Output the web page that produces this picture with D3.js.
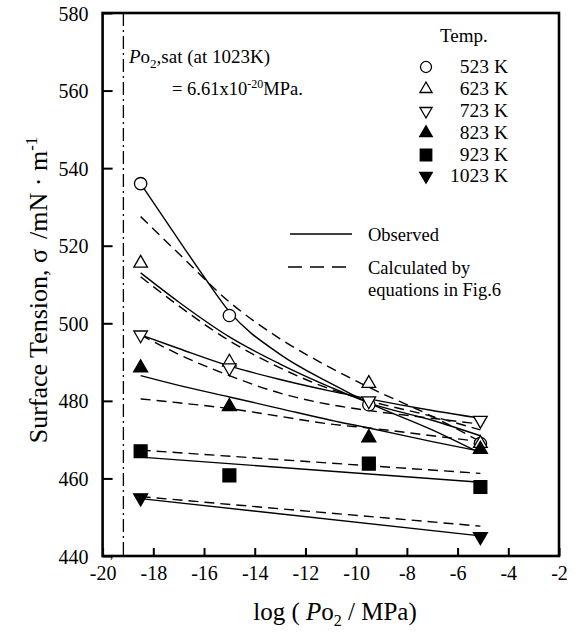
<!DOCTYPE html>
<html><head><meta charset="utf-8">
<script src="https://cdn.jsdelivr.net/npm/d3@7"></script>
<style>body{margin:0;background:#fff}text{font-family:"Liberation Serif","Times New Roman",serif;fill:#000}</style>
</head><body>
<svg id="c" width="582" height="639"></svg>
<script>
// ---- data ----
const xTicks = [-20,-18,-16,-14,-12,-10,-8,-6,-4,-2];
const yTicks = [440,460,480,500,520,540,560,580];
const temps = ["523 K","623 K","723 K","823 K","923 K","1023 K"];
const logPo2 = [-18.5,-15,-9.5,-5.1];
const pts523 = [536,502,479,469];
const pts623 = [515.5,490,484.5,469];
const pts723 = [497,488.5,480,475];
const pts823 = [488.5,478.5,470.5,467.5];
const pts923 = [467,460.8,463.8,457.8];
const x1023 = [-18.5,-5.1];
const pts1023 = [455,445];
const lineX523 = [-18.5,-17,-16,-15,-13,-11,-9.5,-7,-5.1];
const obs523 = [536,521.5,512,503,492,484.5,479.5,472.5,466.5];
const lineX = [-18.5,-17,-15,-13,-11,-9.5,-7,-5.1];
const calc523 = [527.5,518,505.5,496,488.5,483.5,476,469.5];
const obs623 = [513,505.5,496.5,489.5,483.5,479.5,475,471];
const calc623 = [512,504.5,495.5,488.5,483,480,476,472.5];
const obs723 = [497,493.5,489,485.5,482.5,480.5,477.5,475.5];
const calc723 = [497,492,486.5,482,479,477.5,475.5,474];
const obs823 = [486.5,484,481,478,475,473,469.5,467];
const calc823 = [480.5,479.5,478,476,474,473,471,469.5];
const lineX2 = [-18.5,-5.1];
const obs923 = [465.5,459];
const calc923 = [467.3,461.3];
const obs1023 = [454.8,445.2];
const calc1023 = [455.3,447.7];
const satLog = -19.18;

// ---- layout ----
const svg = d3.select("#c");
const L=102.6, R=559, T=13, B=556;
const x = d3.scaleLinear().domain([-20,-2]).range([L,R]);
const y = d3.scaleLinear().domain([440,580]).range([B,T]);

// axes
const gx = svg.append("g").attr("transform",`translate(0,${B})`)
  .call(d3.axisBottom(x).tickValues(xTicks).tickSize(-8).tickPadding(10).tickFormat(d3.format("d")));
const gy = svg.append("g").attr("transform",`translate(${L},0)`)
  .call(d3.axisLeft(y).tickValues(yTicks).tickSize(-10).tickPadding(14).tickFormat(d3.format("d")));
[gx,gy].forEach(g=>{
  g.select(".domain").remove();
  g.selectAll(".tick line").attr("stroke","#000").attr("stroke-width",2);
  g.selectAll(".tick text").attr("font-size",20).attr("font-family","Liberation Serif").attr("fill","#000");
});
gx.selectAll(".tick text").text(d=>d<0? "-"+Math.abs(d):d);
gy.selectAll(".tick text").attr("dy","0.35em");

// saturation line
svg.append("line").attr("x1",x(satLog)).attr("x2",x(satLog)).attr("y1",T).attr("y2",B)
  .attr("stroke","#000").attr("stroke-width",1.3).attr("stroke-dasharray","13,4,2,4");

// frame
svg.append("rect").attr("x",L).attr("y",T).attr("width",R-L).attr("height",B-T)
  .attr("fill","none").attr("stroke","#000").attr("stroke-width",2.6);

// lines
const lineGen = d3.line().x(d=>x(d[0])).y(d=>y(d[1])).curve(d3.curveMonotoneX);
const series = [
  [lineX523,obs523,false],[lineX,calc523,true],
  [lineX,obs623,false],[lineX,calc623,true],
  [lineX,obs723,false],[lineX,calc723,true],
  [lineX,obs823,false],[lineX,calc823,true],
  [lineX2,obs923,false],[lineX2,calc923,true],
  [lineX2,obs1023,false],[lineX2,calc1023,true]
];
series.forEach(([xs,vs,dash])=>{
  svg.append("path").datum(xs.map((v,i)=>[v,vs[i]]))
    .attr("d",lineGen).attr("fill","none").attr("stroke","#000")
    .attr("stroke-width",1.4).attr("stroke-dasharray",dash?"10,6":null);
});

// markers
const symDefs = [
  {type:d3.symbolCircle,size:120,fill:false,rot:0},
  {type:d3.symbolTriangle,size:80,fill:false,rot:0},
  {type:d3.symbolTriangle,size:80,fill:false,rot:180},
  {type:d3.symbolTriangle,size:85,fill:true,rot:0},
  {type:d3.symbolSquare,size:165,fill:true,rot:0},
  {type:d3.symbolTriangle,size:85,fill:true,rot:180}
];
function drawSym(g,def,cx,cy,scale){
  g.append("path").attr("d",d3.symbol().type(def.type).size(def.size*(scale||1))())
    .attr("transform",`translate(${cx},${cy}) rotate(${def.rot})`)
    .attr("fill",def.fill?"#000":"#fff").attr("stroke","#000").attr("stroke-width",1.3);
}
const ptSets = [
  [logPo2,pts523],[logPo2,pts623],[logPo2,pts723],[logPo2,pts823],[logPo2,pts923],[x1023,pts1023]
];
ptSets.forEach(([xs,vs],k)=>{
  xs.forEach((v,i)=>drawSym(svg,symDefs[k],x(v),y(vs[i])));
});

// legend
svg.append("text").attr("x",440).attr("y",42).attr("font-size",19).text("Temp.");
const legY = [67,89,111,133,155,176];
temps.forEach((t,k)=>{
  drawSym(svg,symDefs[k],426,legY[k],0.8);
  svg.append("text").attr("x",508).attr("y",legY[k]+6).attr("font-size",19.5).attr("text-anchor","end").text(t);
});
svg.append("line").attr("x1",290).attr("x2",352).attr("y1",234).attr("y2",234).attr("stroke","#000").attr("stroke-width",1.4);
svg.append("text").attr("x",368).attr("y",241).attr("font-size",18.5).text("Observed");
svg.append("line").attr("x1",288).attr("x2",352).attr("y1",267).attr("y2",267).attr("stroke","#000").attr("stroke-width",1.4).attr("stroke-dasharray","14,8");
svg.append("text").attr("x",368).attr("y",274).attr("font-size",18.5).text("Calculated by");
svg.append("text").attr("x",368).attr("y",296).attr("font-size",18.5).text("equations in Fig.6");

// annotation
const a1 = svg.append("text").attr("x",129).attr("y",63).attr("font-size",19);
a1.append("tspan").attr("font-style","italic").text("P");
a1.append("tspan").text("o");
a1.append("tspan").attr("font-size",13).attr("dy",5).text("2");
a1.append("tspan").attr("dy",-5).text(",sat (at 1023K)");
const a2 = svg.append("text").attr("x",172).attr("y",95).attr("font-size",18.5);
a2.append("tspan").text("= 6.61x10");
a2.append("tspan").attr("font-size",12).attr("dy",-7).text("-20");
a2.append("tspan").attr("dy",7).text("MPa.");

// stray comma below the axis corner
svg.append("text").attr("x",110).attr("y",558).attr("font-size",12).text(",");

// axis titles
const xt = svg.append("text").attr("x",335).attr("y",620).attr("font-size",25).attr("text-anchor","middle");
xt.append("tspan").text("log ( ");
xt.append("tspan").attr("font-style","italic").text("P");
xt.append("tspan").text("o");
xt.append("tspan").attr("font-size",16).attr("dy",6).text("2");
xt.append("tspan").attr("dy",-6).text(" / MPa)");
const yt = svg.append("text").attr("transform","translate(47,290) rotate(-90)").attr("font-size",26)
  .attr("text-anchor","middle");
yt.append("tspan").text("Surface Tension, σ");
yt.append("tspan").attr("dx",10).text("/mN · m");
yt.append("tspan").attr("font-size",17).attr("dy",-10).text("-1");
</script>
</body></html>
